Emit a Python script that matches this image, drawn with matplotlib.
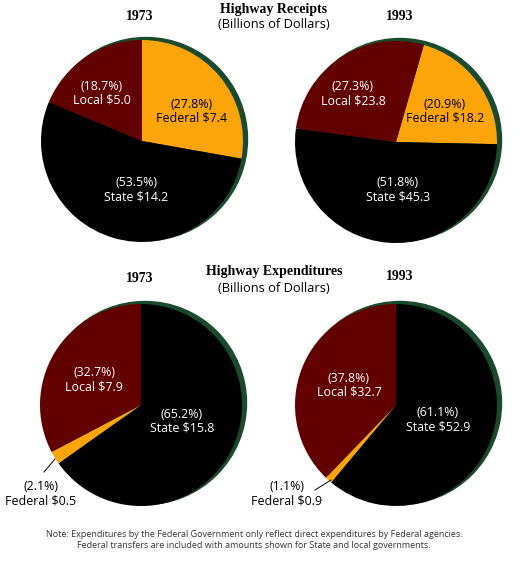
import matplotlib
matplotlib.use("Agg")
import matplotlib.pyplot as plt
from matplotlib.patches import Circle

# shares (percent) and amounts (billions of dollars)
receipt_labels = ['Federal', 'State', 'Local']
receipt_pct_1973 = [27.8, 53.5, 18.7]
receipt_amt_1973 = [7.4, 14.2, 5.0]
receipt_pct_1993 = [20.9, 51.8, 27.3]
receipt_amt_1993 = [18.2, 45.3, 23.8]

expend_labels = ['State', 'Federal', 'Local']
expend_pct_1973 = [65.2, 2.1, 32.7]
expend_amt_1973 = [15.8, 0.5, 7.9]
expend_pct_1993 = [61.1, 1.1, 37.8]
expend_amt_1993 = [52.9, 0.9, 32.7]

colors = {'Federal': '#fca50a', 'State': '#000000', 'Local': '#620000'}
W, H = 525, 564
sans = 'Open Sans'
serif = 'Liberation Serif'

fig = plt.figure(figsize=(W / 100, H / 100), dpi=100)
ax = fig.add_axes([0, 0, 1, 1])


def Y(y):
    # pixel row from top -> data coordinate
    return H - y


def draw_pie(cx, cy, r, pcts, names, start):
    ax.add_patch(Circle((cx + 4, Y(cy) + 2), r + 0.5, color='#1a4a2c', zorder=1))
    wedges, _ = ax.pie(pcts, colors=[colors[n] for n in names], startangle=start,
                       counterclock=False, center=(cx, Y(cy)), radius=r,
                       wedgeprops=dict(linewidth=0))
    for w in wedges:
        w.set_zorder(2)


def label(x, y, name, pct, amt, color='white'):
    ax.text(x, Y(y), f'({pct}%)\n{name} ${amt}', ha='center', va='center', color=color,
            fontsize=8.9, family=sans, linespacing=1.1, zorder=5)


# receipts
draw_pie(142, 141, 101, receipt_pct_1973, receipt_labels, 90)
draw_pie(396, 142, 101, receipt_pct_1993, receipt_labels, 74)
# expenditures
draw_pie(141, 405, 101, expend_pct_1973, expend_labels, 90)
draw_pie(396, 405, 101, expend_pct_1993, expend_labels, 90)

ax.set_xlim(0, W)
ax.set_ylim(0, H)
ax.set_aspect('auto')
ax.axis('off')

# titles
ax.text(274, Y(9), 'Highway Receipts', ha='center', va='center', fontsize=10,
        fontweight='bold', family=serif)
ax.text(274, Y(25), '(Billions of Dollars)', ha='center', va='center', fontsize=9.3, family=sans)
ax.text(140, Y(16), '1973', ha='center', va='center', fontsize=10, fontweight='bold', family=serif)
ax.text(400, Y(16), '1993', ha='center', va='center', fontsize=10, fontweight='bold', family=serif)

ax.text(274, Y(272), 'Highway Expenditures', ha='center', va='center', fontsize=10,
        fontweight='bold', family=serif)
ax.text(274, Y(288), '(Billions of Dollars)', ha='center', va='center', fontsize=9.3, family=sans)
ax.text(140, Y(279), '1973', ha='center', va='center', fontsize=10, fontweight='bold', family=serif)
ax.text(400, Y(277), '1993', ha='center', va='center', fontsize=10, fontweight='bold', family=serif)

# receipt labels
label(102, 93, 'Local', receipt_pct_1973[2], receipt_amt_1973[2])
label(192, 111, 'Federal', receipt_pct_1973[0], receipt_amt_1973[0], color='black')
label(136, 190, 'State', receipt_pct_1973[1], receipt_amt_1973[1])
label(353, 94, 'Local', receipt_pct_1993[2], receipt_amt_1993[2])
label(445, 111, 'Federal', receipt_pct_1993[0], receipt_amt_1993[0], color='black')
label(398, 190, 'State', receipt_pct_1993[1], receipt_amt_1993[1])

# expenditure labels
label(94, 380, 'Local', expend_pct_1973[2], expend_amt_1973[2])
label(182, 421, 'State', expend_pct_1973[0], expend_amt_1973[0])
label(41, 494, 'Federal', expend_pct_1973[1], expend_amt_1973[1], color='black')
label(349, 385, 'Local', expend_pct_1993[2], expend_amt_1993[2])
label(438, 420, 'State', expend_pct_1993[0], expend_amt_1993[0])
label(287, 494, 'Federal', expend_pct_1993[1], expend_amt_1993[1], color='black')

# leader lines for the small federal slices
ax.plot([44, 55], [Y(472), Y(459)], color='black', lw=0.7, zorder=5)
ax.plot([315, 331], [Y(490), Y(480)], color='black', lw=0.7, zorder=5)

ax.text(254, Y(540), 'Note: Expenditures by the Federal Government only reflect direct expenditures by Federal agencies.\n'
        'Federal transfers are included with amounts shown for State and local governments.',
        ha='center', va='center', fontsize=6.5, family=sans, color='#333333', linespacing=1.25)

fig.savefig('out.png', dpi=100, facecolor='white')
